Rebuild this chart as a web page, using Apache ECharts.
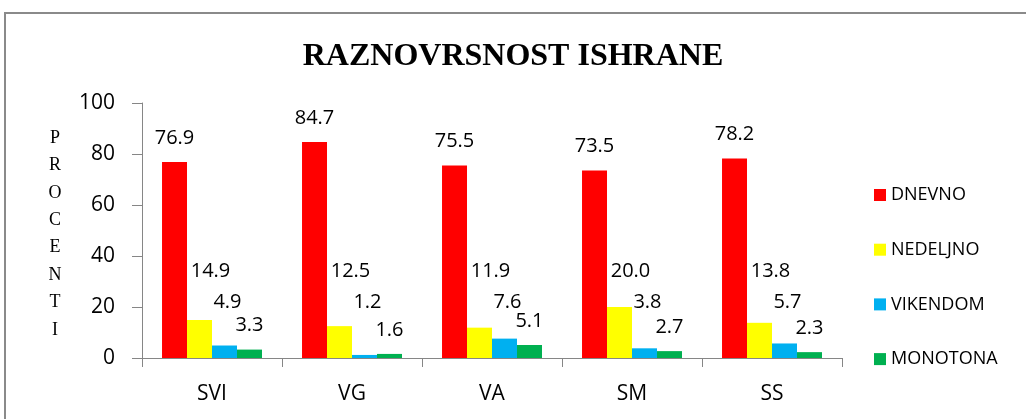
<!DOCTYPE html>
<html>
<head>
<meta charset="utf-8">
<script src="https://cdn.jsdelivr.net/npm/echarts@6/dist/echarts.min.js"></script>
<style>
  html, body { margin: 0; padding: 0; background: #fff; }
  #mainECharts { width: 1026px; height: 419px; }
</style>
</head>
<body>
<div id="mainECharts"></div>
<script>
// podaci
var categories = ['SVI', 'VG', 'VA', 'SM', 'SS'];
var seriesNames = ['DNEVNO', 'NEDELJNO', 'VIKENDOM', 'MONOTONA'];
var dnevno = [76.9, 84.7, 75.5, 73.5, 78.2];
var nedeljno = [14.9, 12.5, 11.9, 20.0, 13.8];
var vikendom = [4.9, 1.2, 7.6, 3.8, 5.7];
var monotona = [3.3, 1.6, 5.1, 2.7, 2.3];
var yMin = 0, yMax = 100, yStep = 20;

var colors = ['#FF0000', '#FFFF00', '#00B0F0', '#00B050'];
var lblFont = '"Open Sans", sans-serif';

function fmt(p) { return p.value.toFixed(1); }

// labele iznad stubica
var topLabel = {
  show: true, position: 'top', distance: 14,
  color: '#000', fontSize: 20, fontFamily: lblFont, formatter: fmt
};
function fixedLabel(dx, dy) {
  return {
    show: true, position: 'insideBottom', distance: 0, verticalAlign: 'middle',
    offset: [dx, dy],
    color: '#000', fontSize: 20, fontFamily: lblFont, formatter: fmt
  };
}

var myChart = echarts.init(document.getElementById('mainECharts'));

var option = {
  animation: false,
  title: {
    text: 'RAZNOVRSNOST ISHRANE',
    left: 'center', top: 36,
    textStyle: { fontFamily: '"Liberation Serif", "Times New Roman", serif', fontWeight: 'bold', fontSize: 32, color: '#000' }
  },
  graphic: [
    {
      type: 'rect', silent: true,
      shape: { x: 5, y: 13, width: 1040, height: 430 },
      style: { fill: 'none', stroke: '#8a8a8a', lineWidth: 2 }
    },
    {
      type: 'text', silent: true, x: 55, y: 234,
      style: {
        text: 'P\nR\nO\nC\nE\nN\nT\nI',
        align: 'center', verticalAlign: 'middle',
        lineHeight: 27.4,
        font: '18px "Liberation Serif", serif', fill: '#000'
      }
    }
  ],
  legend: {
    orient: 'vertical',
    left: 869, top: 180,
    itemWidth: 12, itemHeight: 12, itemGap: 34.7,
    icon: 'rect',
    data: seriesNames,
    textStyle: { fontFamily: lblFont, fontSize: 18, color: '#000', lineHeight: 20 }
  },
  grid: { left: 142, right: 184, top: 103, bottom: 61 },
  xAxis: {
    type: 'category',
    data: categories,
    axisLine: { lineStyle: { color: '#868686', width: 1 } },
    axisTick: { show: true, length: 9, alignWithLabel: false, lineStyle: { color: '#868686' } },
    axisLabel: { color: '#000', fontSize: 21, fontFamily: lblFont, margin: 26 }
  },
  yAxis: {
    type: 'value',
    min: yMin, max: yMax, interval: yStep,
    axisLine: { show: true, lineStyle: { color: '#868686', width: 1 } },
    axisTick: { show: true, length: 10, lineStyle: { color: '#868686' } },
    splitLine: { show: false },
    axisLabel: { color: '#000', fontSize: 21, fontFamily: lblFont, margin: 27 }
  },
  series: [
    { name: seriesNames[0], type: 'bar', data: dnevno, barGap: '0%', barCategoryGap: '28.6%',
      itemStyle: { color: colors[0] }, label: topLabel },
    { name: seriesNames[1], type: 'bar', data: nedeljno,
      itemStyle: { color: colors[1] }, label: fixedLabel(11, -87) },
    { name: seriesNames[2], type: 'bar', data: vikendom,
      itemStyle: { color: colors[2] }, label: fixedLabel(3, -56) },
    { name: seriesNames[3], type: 'bar', data: monotona,
      itemStyle: { color: colors[3] }, label: topLabel }
  ]
};

myChart.setOption(option);
</script>
</body>
</html>
